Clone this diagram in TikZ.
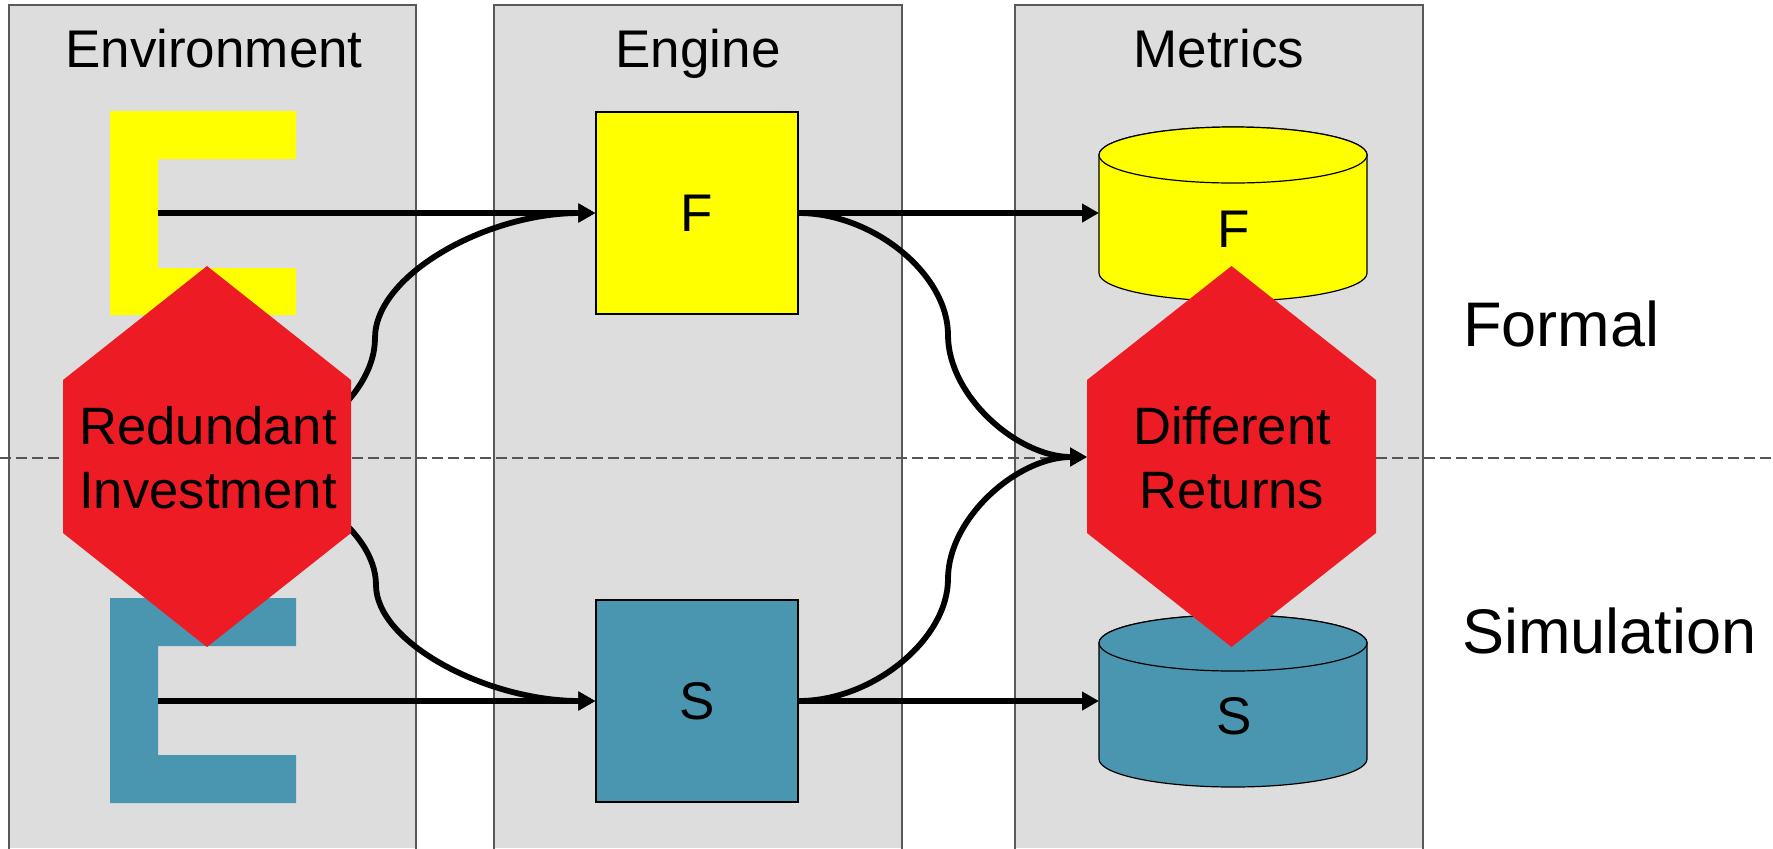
\documentclass[tikz,border=0pt]{standalone}
\usepackage{fontspec}
\setmainfont{Liberation Sans}
\usetikzlibrary{arrows.meta}
\definecolor{panelgray}{HTML}{DDDDDD}
\definecolor{panelline}{HTML}{595959}
\definecolor{ey}{HTML}{FFFF00}
\definecolor{eb}{HTML}{4A96B1}
\definecolor{hred}{HTML}{ED1C24}
\definecolor{dashgray}{HTML}{555555}
\begin{document}
\begin{tikzpicture}[x=0.5pt,y=-0.5pt,
  panelfill/.style={fill=panelgray},
  panelborder/.style={draw=panelline,line width=0.7pt},
  titletext/.style={font=\fontsize{26.5}{30}\selectfont,anchor=base,inner sep=0pt},
  sidetext/.style={font=\fontsize{31.5}{36}\selectfont,anchor=base west,inner sep=0pt},
  hextext/.style={font=\fontsize{26.3}{30}\selectfont,anchor=base,inner sep=0pt},
  enginebox/.style={draw=black,line width=0.6pt,minimum width=101pt,minimum height=101pt,inner sep=0pt,font=\fontsize{26.5}{30}\selectfont},
  cyl/.style={draw=black,line width=0.6pt},
  hexa/.style={fill=hred},
  conn/.style={line width=2.9pt,line join=round,-{Triangle[length=8.5pt,width=9pt]}},
  divider/.style={draw=dashgray,line width=1pt,dash pattern=on 5.5pt off 2.5pt}
]
\useasboundingbox (0,0) rectangle (1773,848);

% panels
\foreach \a/\b in {9/416,494/902,1015/1423}{
  \fill[panelfill] (\a,5) rectangle (\b,848);
  \draw[panelborder] (\a,849) -- (\a,5) -- (\b,5) -- (\b,849);
}
\node[titletext] (tenv) at (214,67) {Environment};
\node[titletext] (teng) at (698,67) {Engine};
\node[titletext] (tmet) at (1219,67) {Metrics};

% dashed divider
\draw[divider] (0,458) -- (1773,458);

% E shapes
\fill[ey] (110,111) -- (296,111) -- (296,159) -- (158,159) -- (158,268) -- (296,268) -- (296,315) -- (110,315) -- cycle;
\fill[eb] (110,598) -- (296,598) -- (296,646) -- (158,646) -- (158,755) -- (296,755) -- (296,803) -- (110,803) -- cycle;
\coordinate (eyout) at (158,213);
\coordinate (ebout) at (158,701);

% engine boxes
\node[enginebox,fill=ey] (fbox) at (697,213) {F};
\node[enginebox,fill=eb] (sbox) at (697,701) {S};

% cylinders
\path[cyl,fill=ey] (1099,155) -- (1099,273) arc[start angle=180,end angle=360,x radius=67pt,y radius=14pt]
  -- (1367,155) arc[start angle=0,end angle=180,x radius=67pt,y radius=14pt] -- cycle;
\path[cyl,fill=ey] (1233,155) ellipse[x radius=67pt,y radius=14pt];
\node[titletext] (fcyl) at (1234,247) {F};
\coordinate (fcylin) at (1099,213);

\path[cyl,fill=eb] (1099,643) -- (1099,759) arc[start angle=180,end angle=360,x radius=67pt,y radius=14pt]
  -- (1367,643) arc[start angle=0,end angle=180,x radius=67pt,y radius=14pt] -- cycle;
\path[cyl,fill=eb] (1233,643) ellipse[x radius=67pt,y radius=14pt];
\node[titletext] (scyl) at (1234,734) {S};
\coordinate (scylin) at (1099,701);

% hidden start points and hexagon tip
\coordinate (riA) at (207,463);
\coordinate (riB) at (207,470);
\coordinate (drin) at (1087,457);

% straight connectors
\draw[conn] (eyout) -- (fbox.west);
\draw[conn] (ebout) -- (sbox.west);
\draw[conn] (fbox.east) -- (fcylin);
\draw[conn] (sbox.east) -- (scylin);

% curved connectors
\draw[conn] (riA) .. controls (291,463) and (375,400.5) .. (375,338)
  .. controls (375,275.5) and (485.5,213) .. (fbox.west);
\draw[conn] (riB) .. controls (291,470) and (376,527.5) .. (376,585)
  .. controls (376,642.5) and (486.5,701) .. (sbox.west);
\draw[conn] (fbox.east) .. controls (873,213) and (948,274) .. (948,335)
  .. controls (948,396) and (1017.5,457) .. (drin);
\draw[conn] (sbox.east) .. controls (873,701) and (948,639) .. (948,579)
  .. controls (948,518) and (1017.5,457) .. (drin);

% hexagons
\fill[hexa] (207,266) -- (351,380) -- (351,533) -- (207,647) -- (63,533) -- (63,380) -- cycle;
\node[hextext] (ri1) at (208,444) {Redundant};
\node[hextext] (ri2) at (208,508) {Investment};

\fill[hexa] (1231.5,266) -- (1376,380) -- (1376,533) -- (1231.5,647) -- (1087,533) -- (1087,380) -- cycle;
\node[hextext] (dr1) at (1232,444) {Different};
\node[hextext] (dr2) at (1232,508) {Returns};

% side labels
\node[sidetext] (lformal) at (1463,346) {Formal};
\node[sidetext] (lsim) at (1462,653) {Simulation};
\end{tikzpicture}
\end{document}
